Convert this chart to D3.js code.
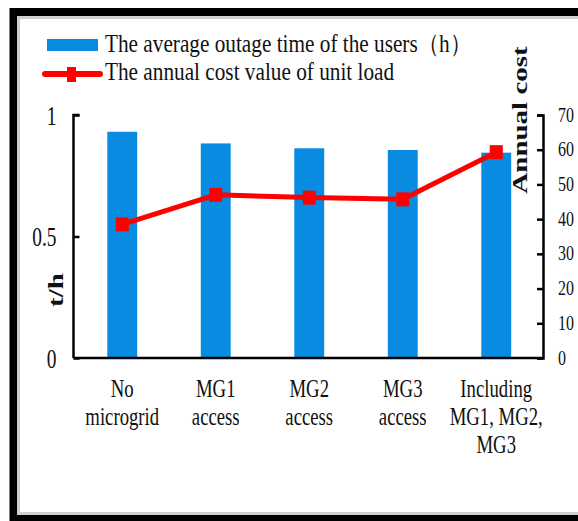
<!DOCTYPE html>
<html>
<head>
<meta charset="utf-8">
<script src="https://cdn.jsdelivr.net/npm/d3@7"></script>
<style>
  body { margin: 0; background: #fff; }
  svg text { font-family: "Liberation Serif", "Times New Roman", serif; fill: #111; }
  .axis path, .axis line { stroke: #000; stroke-width: 2.5; }
</style>
</head>
<body>
<div id="chart"></div>
<script>
// chart values
const categories = ['No\nmicrogrid', 'MG1\naccess', 'MG2\naccess', 'MG3\naccess', 'Including\nMG1, MG2,\nMG3'];
const outageTime = [0.931, 0.883, 0.863, 0.856, 0.845];
const annualCost = [38.5, 47.0, 46.2, 45.7, 59.3];
const leftTicks = [0, 0.5, 1];
const rightTicks = [0, 10, 20, 30, 40, 50, 60, 70];
const legendLabels = ['The average outage time of the users（h）', 'The annual cost value of unit load'];

const W = 578, H = 521;
const margin = {t: 115, r: 35, b: 163, l: 73.5};
const barColor = '#0a8be2';
const lineColor = '#ff0000';

// squash text horizontally, the source picture is narrowed
function squeeze(sel, f) {
    sel.each(function() {
        const w = this.getComputedTextLength();
        d3.select(this).attr('textLength', w * f).attr('lengthAdjust', 'spacingAndGlyphs');
    });
}

const svg = d3.select('#chart').append('svg')
    .attr('width', W)
    .attr('height', H)
    .attr('font-family', '"Liberation Serif", "Times New Roman", serif');

// frame
svg.append('rect')
    .attr('x', 13.5).attr('y', 12)
    .attr('width', 700).attr('height', 506)
    .attr('fill', '#fff')
    .attr('stroke', '#000').attr('stroke-width', 8);
svg.append('rect')
    .attr('x', 18.5).attr('y', 17.5)
    .attr('width', 700).attr('height', 496)
    .attr('fill', 'none')
    .attr('stroke', '#cfcfcf').attr('stroke-width', 3);

const x0 = margin.l, x1 = W - margin.r;
const y0 = H - margin.b, y1 = margin.t;

const scaleX = d3.scaleBand()
    .domain(categories)
    .range([x0 + 2, x1])
    .padding(0);
const scaleYL = d3.scaleLinear().domain([0, 1]).range([y0, y1]);
const scaleYR = d3.scaleLinear().domain([0, 70]).range([y0, y1]);

const plot = svg.append('g');

// bars
const barW = scaleX.bandwidth() * 0.32;
plot.selectAll('.bin')
    .data(outageTime)
    .enter()
    .append('rect')
    .attr('class', 'bin')
    .attr('fill', barColor)
    .attr('x', (d, i) => scaleX(categories[i]) + scaleX.bandwidth() / 2 - barW / 2)
    .attr('width', barW)
    .attr('y', d => scaleYL(d))
    .attr('height', d => y0 - scaleYL(d));

// axes
const axisL = d3.axisLeft(scaleYL).tickValues(leftTicks).tickSize(-6).tickPadding(17)
    .tickFormat(d3.format('~g'));
const axisLNode = svg.append('g')
    .attr('class', 'axis')
    .attr('transform', `translate(${x0},0)`)
    .call(axisL);
axisLNode.selectAll('text').style('font-size', '27px').attr('dy', '0.34em');
axisLNode.select('.domain').attr('d', `M6,${y1}H0V${y0}`);

const axisR = d3.axisRight(scaleYR).tickValues(rightTicks).tickSize(-6).tickPadding(15);
const axisRNode = svg.append('g')
    .attr('class', 'axis')
    .attr('transform', `translate(${x1},0)`)
    .call(axisR);
axisRNode.selectAll('text').style('font-size', '20px').attr('dy', '0.3em');

const axisB = d3.axisBottom(scaleX).tickSize(0).tickFormat('');
svg.append('g')
    .attr('class', 'axis')
    .attr('transform', `translate(0,${y0})`)
    .call(axisB)
    .select('.domain').attr('d', `M${x0},0H${x1}`);
svg.selectAll('.axis').attr('font-family', null).attr('font-size', null);

// multi-line category labels
categories.forEach(c => {
    const cx = scaleX(c) + scaleX.bandwidth() / 2;
    c.split('\n').forEach((line, j) => {
        svg.append('text')
            .attr('class', 'xlab')
            .attr('x', cx)
            .attr('y', y0 + 39 + j * 28)
            .attr('text-anchor', 'middle')
            .style('font-size', '26px')
            .text(line);
    });
});

// cost line
const line = d3.line()
    .x((d, i) => scaleX(categories[i]) + scaleX.bandwidth() / 2)
    .y(d => scaleYR(d));
plot.append('path')
    .datum(annualCost)
    .attr('fill', 'none')
    .attr('stroke', lineColor)
    .attr('stroke-width', 5)
    .attr('stroke-linejoin', 'round')
    .attr('d', line);
plot.selectAll('.mark')
    .data(annualCost)
    .enter()
    .append('rect')
    .attr('class', 'mark')
    .attr('fill', lineColor)
    .attr('x', (d, i) => scaleX(categories[i]) + scaleX.bandwidth() / 2 - 6.5)
    .attr('y', d => scaleYR(d) - 7)
    .attr('width', 13)
    .attr('height', 14);

// axis titles
svg.append('text')
    .attr('transform', `translate(63,290) scale(0.72,1) rotate(-90)`)
    .attr('text-anchor', 'middle')
    .style('font-size', '29px')
    .style('font-weight', 'bold')
    .text('t/h');
svg.append('text')
    .attr('transform', `translate(527,120) scale(0.72,1) rotate(-90)`)
    .attr('text-anchor', 'middle')
    .style('font-size', '29px')
    .style('font-weight', 'bold')
    .text('Annual cost');

// legend
const legend = svg.append('g');
legend.append('rect')
    .attr('x', 47).attr('y', 39)
    .attr('width', 51).attr('height', 12)
    .attr('fill', barColor);
legend.append('line')
    .attr('x1', 45).attr('x2', 100)
    .attr('y1', 74).attr('y2', 74)
    .attr('stroke', lineColor).attr('stroke-width', 6)
    .attr('stroke-linecap', 'round');
legend.append('rect')
    .attr('x', 67).attr('y', 67)
    .attr('width', 9).attr('height', 15)
    .attr('fill', lineColor);
legend.selectAll('.leg-text')
    .data(legendLabels)
    .enter()
    .append('text')
    .attr('class', 'leg-text')
    .attr('x', 105)
    .attr('y', (d, i) => 52 + i * 28)
    .style('font-size', '25px')
    .text(d => d);

squeeze(legend.selectAll('.leg-text'), 0.85);
squeeze(svg.selectAll('.xlab'), 0.72);
squeeze(axisLNode.selectAll('text'), 0.72);
squeeze(axisRNode.selectAll('text'), 0.8);
</script>
</body>
</html>
